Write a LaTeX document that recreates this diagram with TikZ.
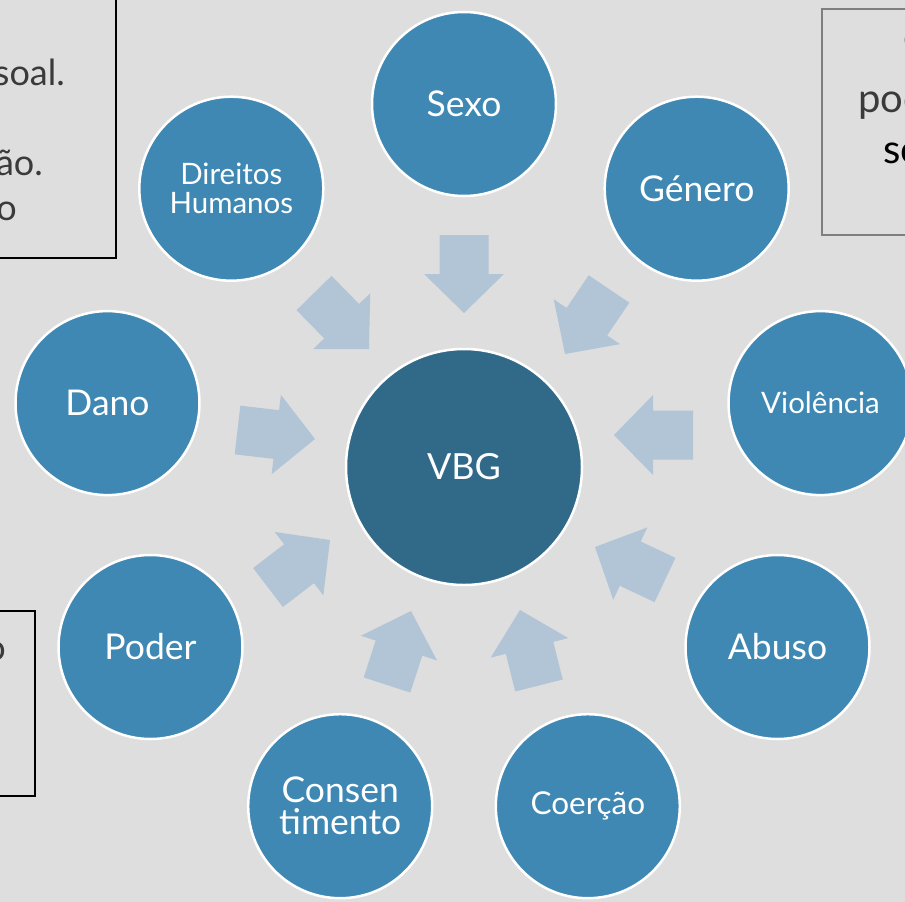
\documentclass[tikz,border=0pt]{standalone}
\usepackage{fontspec}
\setmainfont{Lato}
\usetikzlibrary{calc}
\definecolor{bg}{HTML}{DEDEDE}
\definecolor{outerc}{HTML}{3F88B3}
\definecolor{innerc}{HTML}{316A89}
\definecolor{arrc}{HTML}{B1C5D7}
\definecolor{txtgrey}{HTML}{3A3A3A}
\definecolor{framegrey}{HTML}{7F7F7F}
\newcommand\myblockarrow[2]{%
  \coordinate (hb) at ($(#2)!39pt!(#1)$);
  \fill[arrc] ($(#1)!24.5pt!90:(#2)$) -- ($(hb)!24.5pt!-90:(#1)$) -- ($(hb)!40pt!-90:(#1)$) -- (#2)
     -- ($(hb)!40pt!90:(#1)$) -- ($(hb)!24.5pt!90:(#1)$) -- ($(#1)!24.5pt!-90:(#2)$) -- cycle;
}
\begin{document}
\begin{tikzpicture}[x=1pt,y=-1pt,
  sat/.style={circle,fill=outerc,draw=white,line width=2.5pt,minimum size=184pt,inner sep=0pt,
    text=white,align=center,font=\fontsize{35.5}{38}\selectfont},
  hub/.style={circle,fill=innerc,draw=white,line width=2.5pt,minimum size=236pt,inner sep=0pt,
    text=white,font=\fontsize{36}{38}\selectfont},
  small/.style={font=\fontsize{29.5}{29}\selectfont},
  frame/.style={draw=black,line width=1.3pt},
  sidetext/.style={text=txtgrey,font=\fontsize{36}{40}\selectfont,inner sep=0pt},
]
\useasboundingbox (0,0) rectangle (905,902);
\clip (0,0) rectangle (905,902);
\fill[bg] (0,0) rectangle (905,902);

% partial side boxes
\draw[frame] (-10,-10) rectangle (116,258);
\node[sidetext,anchor=base east] (tl1) at (65,85) {soal.};
\node[sidetext,anchor=base east] (tl2) at (43,175) {ão.};
\node[sidetext,anchor=base east] (tl3) at (17,220) {o};

\draw[framegrey,line width=1.3pt] (822,9) rectangle (920,235);
\node[sidetext,anchor=base west,font=\fontsize{40}{44}\selectfont] (tr1) at (903,50) {c};
\node[sidetext,anchor=base west,font=\fontsize{40}{44}\selectfont] (tr2) at (858,112) {poc};
\node[sidetext,anchor=base west,text=black,font=\fontsize{40}{44}\selectfont] (tr3) at (883,163) {so};

\draw[frame] (-10,611) rectangle (35,796);
\node[sidetext,anchor=base east] (bl1) at (6,660) {o};

% arrows
\coordinate (t1) at (314,293);   \coordinate (p1) at (369,349);
\coordinate (t2) at (464,235);   \coordinate (p2) at (464,313);
\coordinate (t3) at (609,289);   \coordinate (p3) at (565,354);
\coordinate (t4) at (693,435);   \coordinate (p4) at (614,435);
\coordinate (t5) at (665,580);   \coordinate (p5) at (595,547);
\coordinate (t6) at (539,685.5); \coordinate (p6) at (520,610);
\coordinate (t7) at (387,685);   \coordinate (p7) at (411,611);
\coordinate (t8) at (268,587.5); \coordinate (p8) at (330,540);
\coordinate (t9) at (237.5,430); \coordinate (p9) at (315,439);
\foreach \i in {1,...,9}{\myblockarrow{t\i}{p\i}}

% circles
\node[hub] (vbg) at (464,467) {VBG};
\node[sat] (sexo) at (464,104) {Sexo};
\node[sat] (genero) at (696.7,188.7) {Género};
\node[sat,small] (violencia) at (820.5,403.1) {Violência};
\node[sat] (abuso) at (777.5,647) {Abuso};
\node[sat,font=\fontsize{31.5}{34}\selectfont] (coercao) at (587.8,806.2) {Coerção};
\node[sat,font=\fontsize{35.5}{32}\selectfont] (consent) at (340.2,806.2) {Consen\\timento};
\node[sat] (poder) at (150.5,647) {Poder};
\node[sat] (dano) at (107.5,403.1) {Dano};
\node[sat,small] (direitos) at (231.3,188.7) {Direitos\\Humanos};
\end{tikzpicture}
\end{document}
